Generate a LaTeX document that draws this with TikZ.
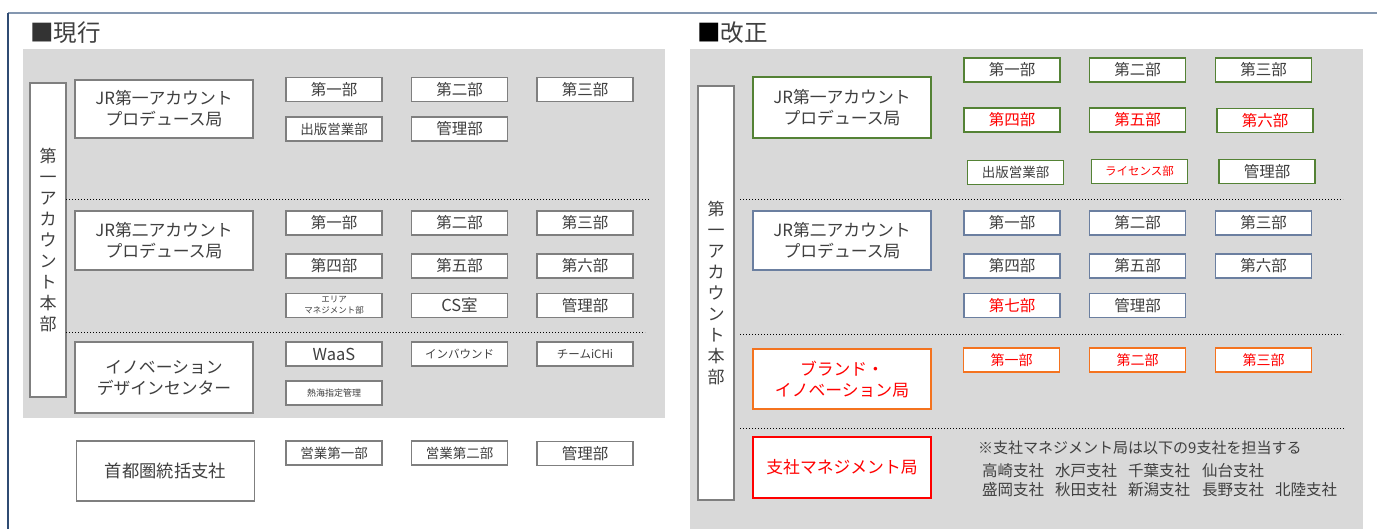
\documentclass[tikz,border=0pt]{standalone}
\usepackage{fontspec}
\setmainfont{Noto Sans CJK JP}
\definecolor{txt}{HTML}{3F3F3F}
\definecolor{panel}{HTML}{D9D9D9}
\definecolor{bgray}{HTML}{7F7F7F}
\definecolor{bgreen}{HTML}{548235}
\definecolor{bblue}{HTML}{6B7FA0}
\definecolor{borange}{HTML}{F4731F}
\definecolor{bred}{HTML}{FF0000}
\definecolor{frametop}{HTML}{8497B0}
\definecolor{frameleft}{HTML}{2F4B73}
\newcommand{\fs}[2]{\fontsize{#1}{#2}\selectfont}
\begin{document}
\begin{tikzpicture}[x=1pt,y=-1pt,
  box/.style={draw=bgray, line width=1.6pt, fill=white, text=txt, inner sep=0pt, align=center, font=\fs{15.5}{18}},
  sbox/.style={box, minimum width=96pt, minimum height=24pt},
  bigbox/.style={box, minimum width=178pt, font=\fs{16.8}{21}},
  vbox/.style={box, minimum width=36pt, font=\fs{17}{21}},
  title/.style={anchor=west, text=txt, font=\fs{23.5}{25}, inner sep=0pt},
  green/.style={draw=bgreen},
  blue/.style={draw=bblue},
  orange/.style={draw=borange},
  redb/.style={draw=bred},
  redt/.style={text=bred},
  sep/.style={dotted, line width=1pt, black},
  note/.style={anchor=west, text=txt, inner sep=0pt, font=\fs{15.5}{19}}
]
\useasboundingbox (0,0) rectangle (1377,529);
\fill[white] (0,0) rectangle (1377,529);
% frame
\coordinate (fTL) at (8,13);
\coordinate (fTR) at (1377,13);
\coordinate (fBL) at (8,529);
\draw[frametop, line width=1.5pt] (fTL) -- (fTR);
\draw[frameleft, line width=1.5pt] (fTL) -- (fBL);

% ================= LEFT =================
\node[title] (tL) at (30,33) {{\color{black!80}■}現行};
\fill[panel] (23,49) rectangle (665,418);
\node[vbox, minimum height=314pt] (vL) at (48,240) {第\\一\\ア\\カ\\ウ\\ン\\ト\\本\\部};

\node[bigbox, minimum height=58pt] (L1) at (164,109) {JR第一アカウント\\プロデュース局};
\node[sbox] (L1a) at (334,89.5) {第一部};
\node[sbox] (L1b) at (459.5,89.5) {第二部};
\node[sbox] (L1c) at (585,89.5) {第三部};
\node[sbox, font=\fs{13.5}{16}] (L1d) at (334,129) {出版営業部};
\node[sbox] (L1e) at (459.5,129) {管理部};

\coordinate (dL1a) at (66,200); \coordinate (dL1b) at (650,200);
\draw[sep] (dL1a) -- (dL1b);

\node[bigbox, minimum height=59pt] (L2) at (164,240.5) {JR第二アカウント\\プロデュース局};
\node[sbox] (L2a) at (334,223) {第一部};
\node[sbox] (L2b) at (459.5,223) {第二部};
\node[sbox] (L2c) at (585,223) {第三部};
\node[sbox] (L2d) at (334,266) {第四部};
\node[sbox] (L2e) at (459.5,266) {第五部};
\node[sbox] (L2f) at (585,266) {第六部};
\node[sbox, font=\fs{8.5}{11}] (L2g) at (334,305.5) {エリア\\マネジメント部};
\node[sbox, font=\fs{16.5}{18}] (L2h) at (459.5,305.5) {CS室};
\node[sbox] (L2i) at (585,305.5) {管理部};

\coordinate (dL2a) at (66,333); \coordinate (dL2b) at (645,333);
\draw[sep] (dL2a) -- (dL2b);

\node[bigbox, minimum height=71pt] (L3) at (164,377.5) {イノベーション\\デザインセンター};
\node[sbox, font=\fs{16.5}{18}] (L3a) at (334,354) {WaaS};
\node[sbox, font=\fs{11.5}{14}] (L3b) at (459.5,354) {インバウンド};
\node[sbox, font=\fs{11.5}{14}] (L3c) at (585,354) {チームiCHi};
\node[sbox, font=\fs{9}{11}] (L3d) at (334,393) {熱海指定管理};

\node[bigbox, minimum height=60pt, font=\fs{17.3}{21}] (L4) at (165.5,471) {首都圏統括支社};
\node[sbox, font=\fs{13.5}{16}] (L4a) at (334,453) {営業第一部};
\node[sbox, font=\fs{13.5}{16}] (L4b) at (459.5,453) {営業第二部};
\node[sbox] (L4c) at (585,453.5) {管理部};

% ================= RIGHT =================
\node[title] (tR) at (697,33) {{\color{black}■}改正};
\fill[panel] (690,49) rectangle (1363,529);
\node[vbox, minimum height=414pt] (vR) at (716,293) {第\\一\\ア\\カ\\ウ\\ン\\ト\\本\\部};

\node[bigbox, green, minimum height=61pt] (R1) at (842,107.5) {JR第一アカウント\\プロデュース局};
\node[sbox, green] (R1a) at (1012,70) {第一部};
\node[sbox, green] (R1b) at (1137.5,70) {第二部};
\node[sbox, green] (R1c) at (1263.5,70) {第三部};
\node[sbox, green, redt] (R1d) at (1012,120) {第四部};
\node[sbox, green, redt] (R1e) at (1137.5,120) {第五部};
\node[sbox, green, redt] (R1f) at (1265,120.5) {第六部};
\node[sbox, green, font=\fs{13.5}{16}] (R1g) at (1015.5,172.5) {出版営業部};
\node[sbox, green, redt, font=\fs{11.5}{14}] (R1h) at (1139.5,171.5) {ライセンス部};
\node[sbox, green] (R1i) at (1267,171.5) {管理部};

\coordinate (dR1a) at (740,200); \coordinate (dR1b) at (1343,200);
\draw[sep] (dR1a) -- (dR1b);

\node[bigbox, blue, minimum height=59pt] (R2) at (842,240.5) {JR第二アカウント\\プロデュース局};
\node[sbox, blue] (R2a) at (1012,223) {第一部};
\node[sbox, blue] (R2b) at (1137.5,223) {第二部};
\node[sbox, blue] (R2c) at (1263.5,223) {第三部};
\node[sbox, blue] (R2d) at (1012,266) {第四部};
\node[sbox, blue] (R2e) at (1137.5,266) {第五部};
\node[sbox, blue] (R2f) at (1263.5,266) {第六部};
\node[sbox, blue, redt] (R2g) at (1012,305.5) {第七部};
\node[sbox, blue] (R2h) at (1137.5,305.5) {管理部};

\coordinate (dR2a) at (740,335); \coordinate (dR2b) at (1343,335);
\draw[sep] (dR2a) -- (dR2b);

\node[bigbox, orange, redt, minimum height=60pt] (R3) at (842,379) {ブランド・\\イノベーション局};
\node[sbox, orange, redt, font=\fs{14}{16}] (R3a) at (1011.5,360) {第一部};
\node[sbox, orange, redt, font=\fs{14}{16}] (R3b) at (1137.5,360) {第二部};
\node[sbox, orange, redt, font=\fs{14}{16}] (R3c) at (1263.5,360) {第三部};

\coordinate (dR3a) at (740,428); \coordinate (dR3b) at (1345,428);
\draw[sep] (dR3a) -- (dR3b);

\node[bigbox, redb, redt, minimum height=61pt] (R4) at (842,467.5) {支社マネジメント局};
\node[note, font=\fs{15}{18}] (n0) at (978,448) {※支社マネジメント局は以下の9支社を担当する};
\node[note] (b1) at (982,471) {高崎支社};
\node[note] (b2) at (1055,471) {水戸支社};
\node[note] (b3) at (1128,471) {千葉支社};
\node[note] (b4) at (1202,471) {仙台支社};
\node[note] (b5) at (982,490) {盛岡支社};
\node[note] (b6) at (1055,490) {秋田支社};
\node[note] (b7) at (1128,490) {新潟支社};
\node[note] (b8) at (1202,490) {長野支社};
\node[note] (b9) at (1275,490) {北陸支社};
\end{tikzpicture}
\end{document}
